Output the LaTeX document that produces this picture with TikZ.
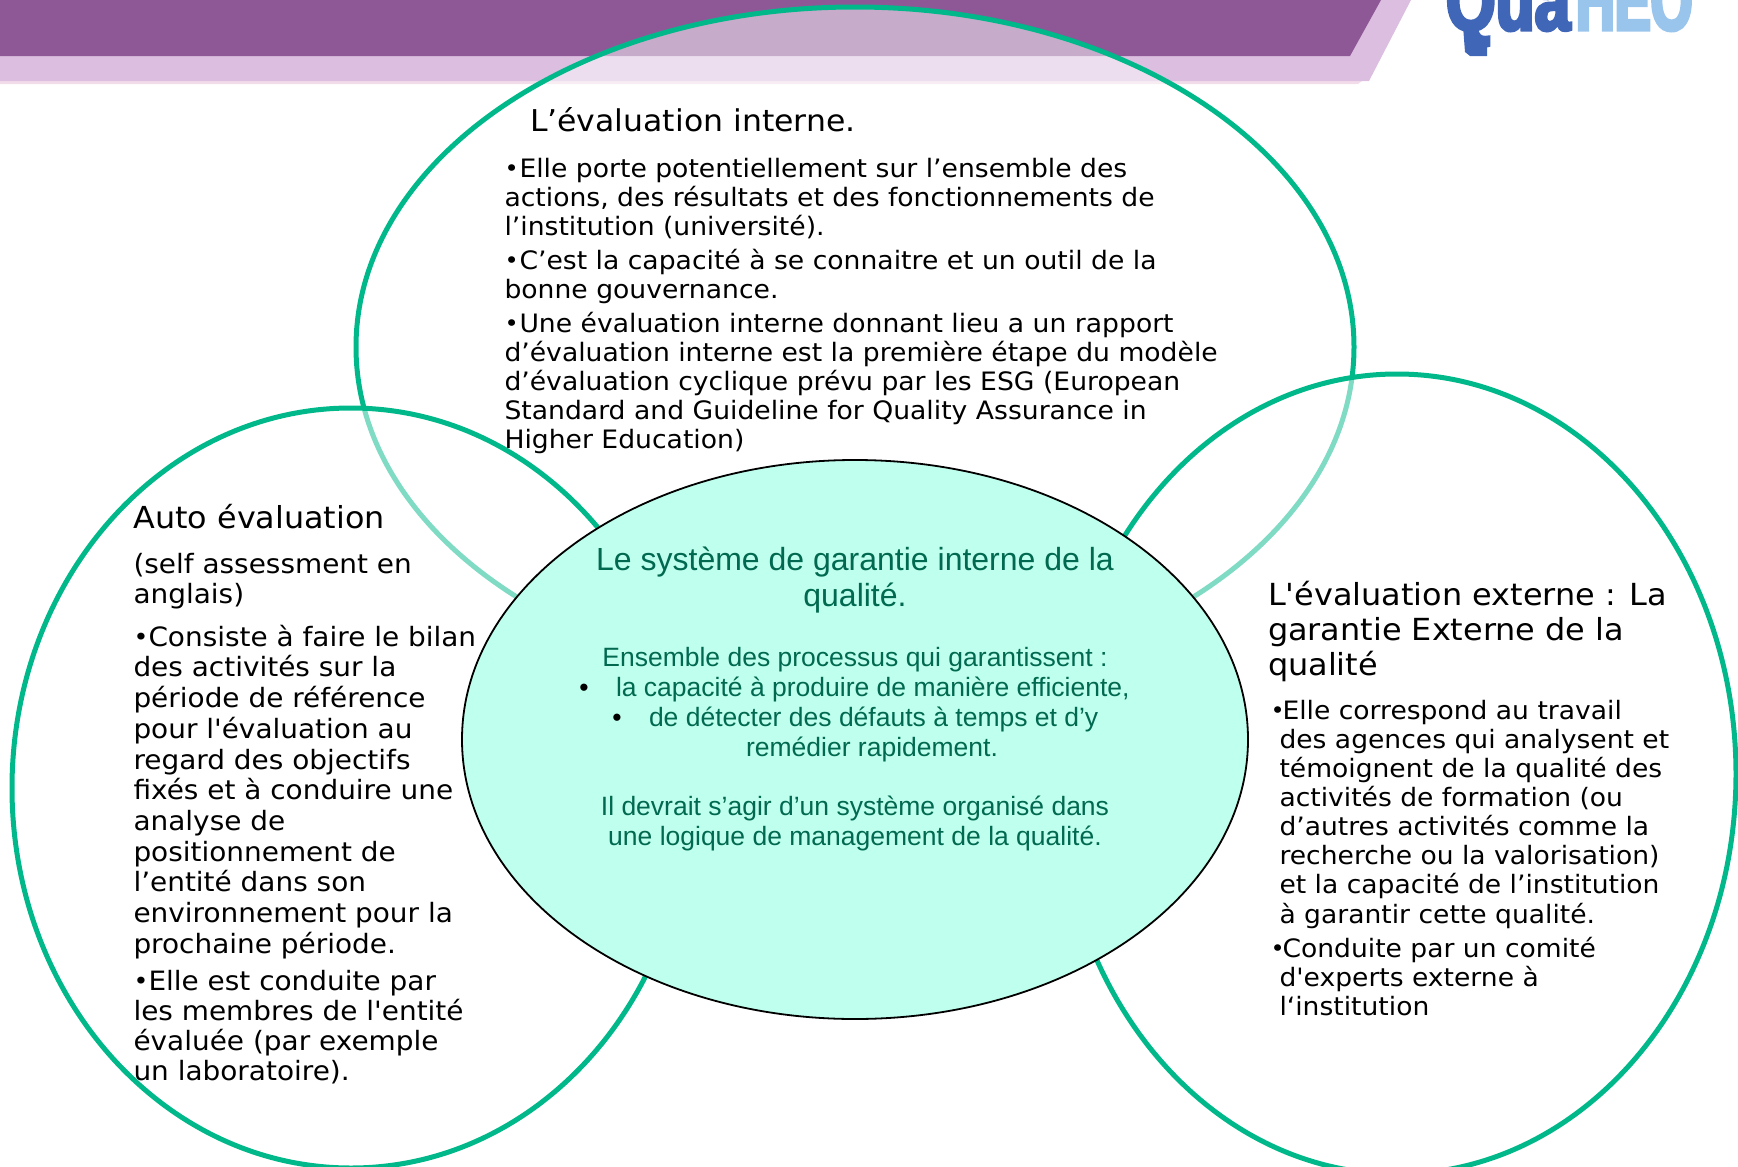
\documentclass[tikz,border=0pt]{standalone}
\usepackage{fontspec}
\usetikzlibrary{shapes.geometric}
\setmainfont{DejaVu Sans}
\newfontfamily\vf[FakeStretch=1.05]{DejaVu Sans}
\newfontfamily\arialf{Liberation Sans}
\newfontfamily\logof[FakeStretch=0.76,FakeBold=4]{Liberation Sans Bold}
\newfontfamily\logog[FakeStretch=0.64,FakeBold=4]{Liberation Sans Bold}
\definecolor{ringgreen}{HTML}{00B88A}
\definecolor{mintfill}{HTML}{BFFFEE}
\definecolor{deepgreen}{HTML}{00694F}
\definecolor{bannerdark}{HTML}{8E5896}
\definecolor{bannerlight}{HTML}{DCBEE0}
\definecolor{bannershade}{HTML}{F3DCEA}
\definecolor{logoblue}{HTML}{4066B8}
\definecolor{logosky}{HTML}{99C5EC}
\tikzset{
  ring/.style={ellipse,draw=ringgreen,line width=5pt,fill=white,fill opacity=.5,inner sep=0pt,outer sep=0pt},
  hub/.style={ellipse,draw=black,line width=1.8pt,fill=mintfill,inner sep=0pt,outer sep=0pt,minimum width=786pt,minimum height=559pt},
  para/.style={anchor=north west,inner sep=0pt,outer sep=0pt,align=left,text=black},
  toptxt/.style={para,font=\vf\fontsize{25.35}{29}\selectfont},
  lefttxt/.style={para,font=\vf\fontsize{26.6}{30.7}\selectfont},
  lefttxtb/.style={para,font=\vf\fontsize{26.6}{30}\selectfont},
  righttxt/.style={para,font=\vf\fontsize{25.3}{29.15}\selectfont},
  toptitle/.style={para,font=\vf\fontsize{30}{35}\selectfont},
  lefttitle/.style={para,font=\vf\fontsize{30.3}{35}\selectfont},
  righttitle/.style={para,font=\vf\fontsize{30.4}{35}\selectfont},
  hubtxt/.style={inner sep=0pt,outer sep=0pt,align=center,text=deepgreen,font=\arialf\fontsize{26.5}{30}\selectfont},
  hubtitle/.style={inner sep=0pt,outer sep=0pt,align=center,text=deepgreen,font=\arialf\fontsize{32}{36}\selectfont},
  hubbullet/.style={inner sep=0pt,outer sep=0pt,text=black,font=\arialf\fontsize{26.5}{30}\selectfont},
  logotxt/.style={anchor=base west,inner sep=0pt,outer sep=0pt}
}
\newcommand{\ST}{\rule{0pt}{20pt}}
\newcommand{\BL}[1]{\makebox[#1pt][l]{\raisebox{1pt}{\scalebox{.9}{•}}}}
\begin{document}
\begin{tikzpicture}[x=1pt,y=-1pt]
\useasboundingbox (0,0) rectangle (1738,1167);
\clip (0,0) rectangle (1738,1167);
% banner
\fill[bannershade] (0,81) -- (1362,81) -- (1358,84) -- (0,84) -- cycle;
\fill[bannerlight] (0,0) -- (1411,0) -- (1369,81) -- (0,81) -- cycle;
\fill[bannerdark] (0,0) -- (1381,0) -- (1350,56) -- (0,56) -- cycle;
% logo
\node[logotxt,text=logoblue,font=\logof\fontsize{84}{84}\selectfont] (logoa) at (1446,30) {Qua};
\node[logotxt,text=logosky,font=\logog\fontsize{84}{84}\selectfont] (logob) at (1576,30) {HEO};
\fill[logoblue] (1463,26) -- (1478,26) -- (1478,44) -- (1487,44) -- (1487,56) -- (1470,56) -- (1465,52) -- cycle;
% rings
\node[ring,minimum width=998pt,minimum height=680pt] (top) at (855,347) {};
\node[ring,minimum width=678pt,minimum height=760pt] (left) at (351,788) {};
\node[ring,minimum width=678pt,minimum height=800pt] (right) at (1397,774) {};
\node[hub] (hub) at (855,739.5) {};
% top text
\node[toptitle] (toptitle) at (530,108) {\ST L’évaluation interne.};
\node[toptxt] (t1) at (504.5,157) {\ST\BL{15}Elle porte potentiellement sur l’ensemble des\\actions, des résultats et des fonctionnements de\\l’institution (université).};
\node[toptxt] (t2) at (504.5,249) {\ST\BL{15}C’est la capacité à se connaitre et un outil de la\\bonne gouvernance.};
\node[toptxt] (t3) at (504.5,312) {\ST\BL{15}Une évaluation interne donnant lieu a un rapport\\d’évaluation interne est la première étape du modèle\\d’évaluation cyclique prévu par les ESG (European\\Standard and Guideline for Quality Assurance in\\Higher Education)};
% left text
\node[lefttitle] (lefttitle) at (133.5,504) {\ST Auto évaluation};
\node[lefttxt] (l0) at (133.5,553) {\ST(self assessment en\\anglais)};
\node[lefttxt] (l1) at (133.5,625) {\ST\BL{15}Consiste à faire le bilan\\des activités sur la\\période de référence\\pour l'évaluation au\\regard des objectifs\\fixés et à conduire une\\analyse de\\positionnement de\\l’entité dans son\\environnement pour la\\prochaine période.};
\node[lefttxtb] (l2) at (133.5,970) {\ST\BL{15}Elle est conduite par\\les membres de l'entité\\évaluée (par exemple\\un laboratoire).};
% right text
\node[righttitle] (righttitle) at (1268,581) {\ST L'évaluation externe : La\\garantie Externe de la\\qualité};
\node[righttxt] (r1) at (1270.5,699) {\ST\BL{12}Elle correspond au travail\\\hspace*{9pt}des agences qui analysent et\\\hspace*{9pt}témoignent de la qualité des\\\hspace*{9pt}activités de formation (ou\\\hspace*{9pt}d’autres activités comme la\\\hspace*{9pt}recherche ou la valorisation)\\\hspace*{9pt}et la capacité de l’institution\\\hspace*{9pt}à garantir cette qualité.};
\node[righttxt] (r2) at (1270.5,937) {\ST\BL{12}Conduite par un comité\\\hspace*{9pt}d'experts externe à\\\hspace*{9pt}l‘institution};
% hub text
\node[hubtitle,anchor=base] (h0) at (855,606) {Le système de garantie interne de la\\qualité.};
\node[hubtxt,anchor=base] (h1) at (855,666) {Ensemble des processus qui garantissent :};
\node[hubbullet,anchor=base] (hb1) at (584,696) {•};
\node[hubtxt,anchor=base west] (h2) at (616,696) {la capacité à produire de manière efficiente,};
\node[hubbullet,anchor=base] (hb2) at (617,726) {•};
\node[hubtxt,anchor=base west] (h3) at (649,726) {de détecter des défauts à temps et d’y};
\node[hubtxt,anchor=base] (h4) at (872,756) {remédier rapidement.};
\node[hubtxt,anchor=base] (h5) at (855,815) {Il devrait s’agir d’un système organisé dans};
\node[hubtxt,anchor=base] (h6) at (855,845) {une logique de management de la qualité.};
\end{tikzpicture}
\end{document}
